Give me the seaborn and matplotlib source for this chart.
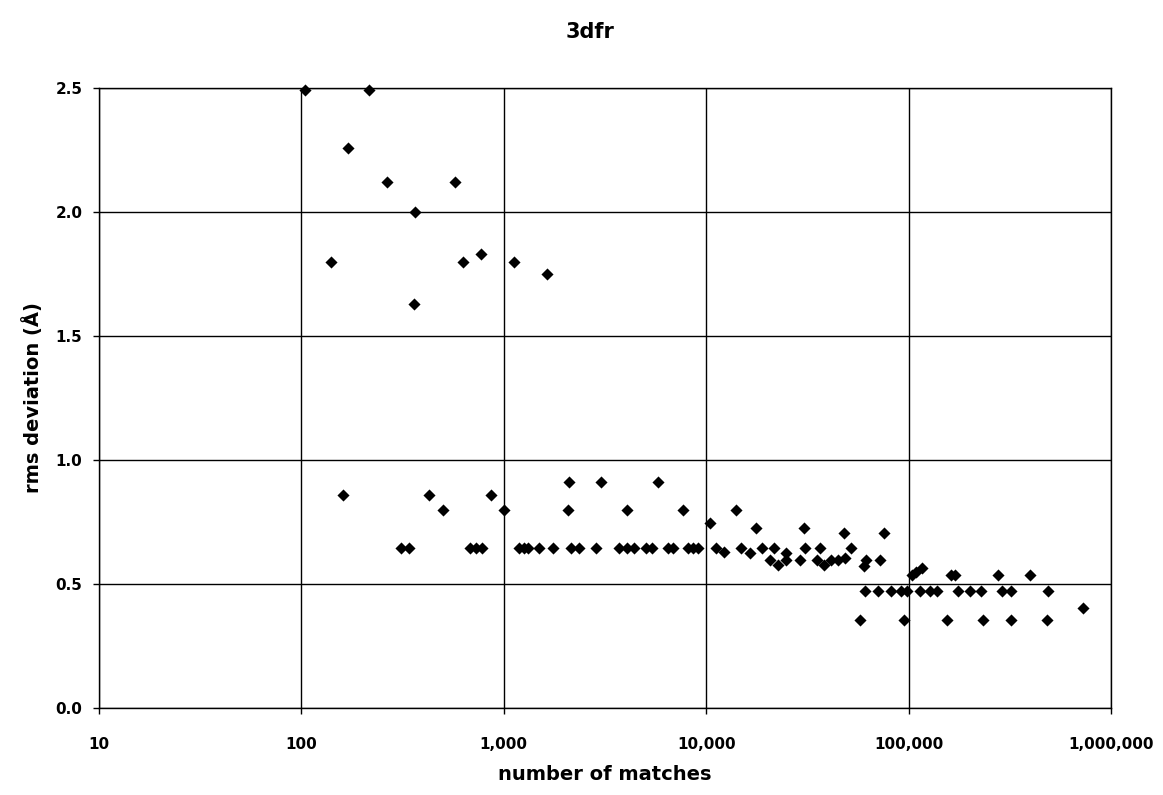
import matplotlib
matplotlib.use("Agg")
import matplotlib.pyplot as plt
import matplotlib.ticker as mticker
import seaborn as sns
import pandas as pd

# ---- data ----
matches = [
    104, 216, 170, 264, 575, 364, 140, 627, 773, 1117, 1637, 361,
    161, 428, 869,
    503, 1003, 2080, 4084, 7674, 14090,
    2094, 3020, 5755,
    10500,
    309, 340, 684, 732, 776, 1190, 1260, 1320, 1500, 1750, 2140, 2340, 2850,
    3700, 4050, 4400, 5050, 5400, 6450, 6850, 8100, 8600, 9100, 11200,
    14900, 18950, 21600, 30900, 36500, 51900,
    12200, 16400, 24900,
    20600, 24900, 29000, 35400, 41500, 44700, 61500, 72500, 48500,
    22700, 38400, 60400,
    17600, 30300,
    48000, 76000,
    104200, 109100, 116800, 162000, 170000, 276000, 400000,
    60700, 70500, 82100, 92000, 98100, 113300, 127000, 138000, 175000,
    200000, 227000, 290000, 321000, 487000,
    57300, 95300, 155000, 232900, 321000, 482000,
    731000,
]
rmsd = [
    2.49, 2.49, 2.26, 2.12, 2.12, 2.00, 1.80, 1.80, 1.83, 1.80, 1.75, 1.63,
    0.86, 0.86, 0.86,
    0.80, 0.80, 0.80, 0.80, 0.80, 0.80,
    0.91, 0.91, 0.91,
    0.745,
    0.645, 0.645, 0.645, 0.645, 0.645, 0.645, 0.645, 0.645, 0.645, 0.645, 0.645, 0.645, 0.645,
    0.645, 0.645, 0.645, 0.645, 0.645, 0.645, 0.645, 0.645, 0.645, 0.645, 0.645,
    0.645, 0.645, 0.645, 0.645, 0.645, 0.645,
    0.63, 0.626, 0.624,
    0.597, 0.597, 0.597, 0.597, 0.597, 0.597, 0.597, 0.597, 0.604,
    0.577, 0.577, 0.573,
    0.727, 0.727,
    0.704, 0.704,
    0.536, 0.55, 0.563, 0.536, 0.536, 0.536, 0.536,
    0.47, 0.47, 0.47, 0.47, 0.47, 0.47, 0.47, 0.47, 0.47,
    0.47, 0.47, 0.47, 0.47, 0.47,
    0.355, 0.355, 0.355, 0.355, 0.355, 0.355,
    0.405,
]
x_ticks = [10, 100, 1000, 10000, 100000, 1000000]
y_ticks = [0.0, 0.5, 1.0, 1.5, 2.0, 2.5]
title = "3dfr"
x_label = "number of matches"
y_label = "rms deviation (Å)"

df = pd.DataFrame({"matches": matches, "rmsd": rmsd})

sns.set_style("white")
plt.rcParams["font.family"] = ["DejaVu Sans"]
plt.rcParams["font.weight"] = "bold"
plt.rcParams["text.color"] = "black"
plt.rcParams["axes.labelcolor"] = "black"
plt.rcParams["xtick.color"] = "black"
plt.rcParams["ytick.color"] = "black"

fig = plt.figure(figsize=(11.63, 7.95), dpi=100)
ax = fig.add_axes([99 / 1163, 1 - 708 / 795, (1111 - 99) / 1163, (708 - 88) / 795])

sns.scatterplot(data=df, x="matches", y="rmsd", marker="D", color="black",
                s=38, linewidth=0, ax=ax, zorder=3, clip_on=False)

ax.set_xscale("log")
ax.set_xlim(10, 1000000)
ax.set_ylim(0, 2.5)
ax.set_xticks(x_ticks)
ax.set_yticks(y_ticks)
ax.xaxis.set_minor_locator(mticker.NullLocator())
ax.xaxis.set_major_formatter(mticker.FuncFormatter(lambda v, p: f"{v:,.0f}"))
ax.yaxis.set_major_formatter(mticker.FuncFormatter(lambda v, p: f"{v:.1f}"))

ax.grid(True, which="major", color="black", linewidth=1.0)
ax.set_axisbelow(True)
for sp in ax.spines.values():
    sp.set_visible(True)
    sp.set_color("black")
    sp.set_linewidth(1.0)

ax.tick_params(axis="both", which="major", direction="out", length=4,
               width=1, color="black", labelsize=11, labelcolor="black",
               bottom=True, left=True)
ax.tick_params(axis="x", pad=17)
ax.tick_params(axis="y", pad=8)
for lab in ax.get_xticklabels() + ax.get_yticklabels():
    lab.set_fontweight("bold")

ax.set_xlabel(x_label, fontsize=14, fontweight="bold", labelpad=9, color="black")
ax.set_ylabel(y_label, fontsize=14, fontweight="bold", labelpad=9, color="black")
fig.text(590 / 1163, 1 - 32 / 795, title, ha="center", va="center",
         fontsize=15, fontweight="bold", color="black")

fig.savefig("out.png", dpi=100, facecolor="white")
